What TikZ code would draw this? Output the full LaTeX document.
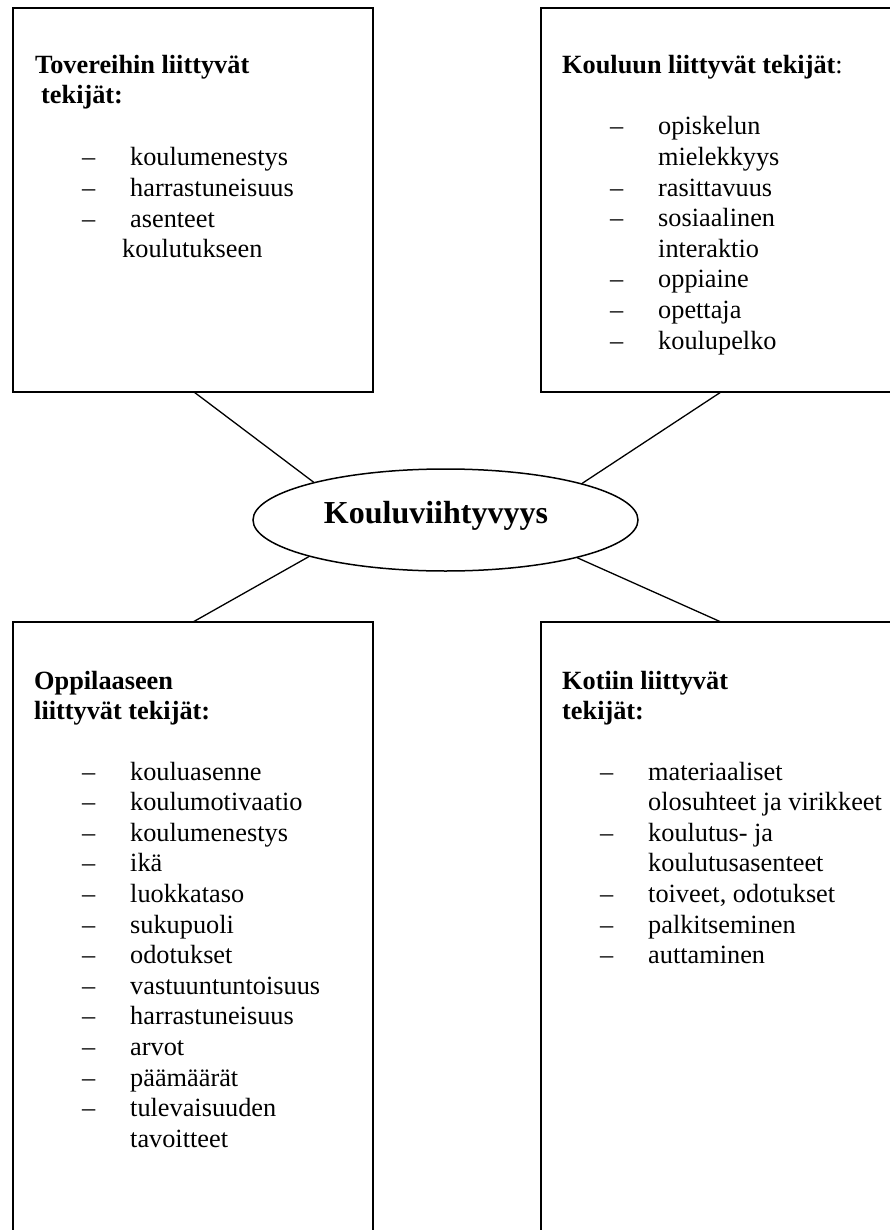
\documentclass[tikz,border=0pt]{standalone}
\usepackage{fontspec}
\setmainfont{Liberation Serif}
\usetikzlibrary{shapes.geometric}
\newcommand\dsh{\makebox[48pt][l]{–}}
\begin{document}
\begin{tikzpicture}[x=1pt,y=-1pt,
  box/.style={draw, line width=1.8pt, inner sep=0pt, outer sep=0pt, anchor=north west},
  link/.style={line width=1.3pt},
  head/.style={anchor=base west, inner sep=0pt, font=\fontsize{26.3pt}{30pt}\selectfont\bfseries},
  lst/.style={anchor=base west, inner sep=0pt, font=\fontsize{26.3pt}{30.6pt}\selectfont}]
\useasboundingbox (0,0) rectangle (890,1230);
\clip (0,0) rectangle (890,1230);

% boxes
\node[box, minimum width=360pt, minimum height=384pt] (tlbox) at (13,8) {};
\node[box, minimum width=400pt, minimum height=384pt] (trbox) at (541,8) {};
\node[box, minimum width=360pt, minimum height=700pt] (blbox) at (13,622) {};
\node[box, minimum width=400pt, minimum height=700pt] (brbox) at (541,622) {};

% centre ellipse
\node[draw, ellipse, line width=1.5pt, minimum width=385pt, minimum height=102pt, inner sep=0pt] (ell) at (445.5,520) {};
\node[anchor=base, inner sep=0pt, font=\fontsize{32pt}{36pt}\selectfont\bfseries] (title) at (436,523) {Kouluviihtyvyys};

% connectors
\coordinate (tlp) at (194,392);
\coordinate (trp) at (721,392);
\coordinate (blp) at (193,622);
\coordinate (brp) at (721,622);
\draw[link] (tlp) -- (ell.164.8);
\draw[link] (trp) -- (ell.15.2);
\draw[link] (blp) -- (ell.195.2);
\draw[link] (brp) -- (ell.344.8);

% top-left text
\node[head] (tlhead) at (35,74) {\begin{tabular}[t]{@{}l@{}}Tovereihin liittyvät\\\hspace*{6pt}tekijät:\end{tabular}};
\node[lst] (tllist) at (82,166) {\begin{tabular}[t]{@{}l@{}l@{}}
\dsh & koulumenestys\\
\dsh & harrastuneisuus\\
\dsh & asenteet\\
 & \hspace*{-8pt}koulutukseen
\end{tabular}};

% top-right text
\node[head] (trhead) at (562,74) {Kouluun liittyvät tekijät\textnormal{:}};
\node[lst] (trlist) at (610,135) {\begin{tabular}[t]{@{}l@{}l@{}}
\dsh & opiskelun\\
 & mielekkyys\\
\dsh & rasittavuus\\
\dsh & sosiaalinen\\
 & interaktio\\
\dsh & oppiaine\\
\dsh & opettaja\\
\dsh & koulupelko
\end{tabular}};

% bottom-left text
\node[head] (blhead) at (34,689) {\begin{tabular}[t]{@{}l@{}}Oppilaaseen\\liittyvät tekijät:\end{tabular}};
\node[lst] (bllist) at (82,780) {\begin{tabular}[t]{@{}l@{}l@{}}
\dsh & kouluasenne\\
\dsh & koulumotivaatio\\
\dsh & koulumenestys\\
\dsh & ikä\\
\dsh & luokkataso\\
\dsh & sukupuoli\\
\dsh & odotukset\\
\dsh & vastuuntuntoisuus\\
\dsh & harrastuneisuus\\
\dsh & arvot\\
\dsh & päämäärät\\
\dsh & tulevaisuuden\\
 & tavoitteet
\end{tabular}};

% bottom-right text
\node[head] (brhead) at (562,689) {\begin{tabular}[t]{@{}l@{}}Kotiin liittyvät\\tekijät:\end{tabular}};
\node[lst] (brlist) at (600,780) {\begin{tabular}[t]{@{}l@{}l@{}}
\dsh & materiaaliset\\
 & olosuhteet ja virikkeet\\
\dsh & koulutus- ja\\
 & koulutusasenteet\\
\dsh & toiveet, odotukset\\
\dsh & palkitseminen\\
\dsh & auttaminen
\end{tabular}};
\end{tikzpicture}
\end{document}
